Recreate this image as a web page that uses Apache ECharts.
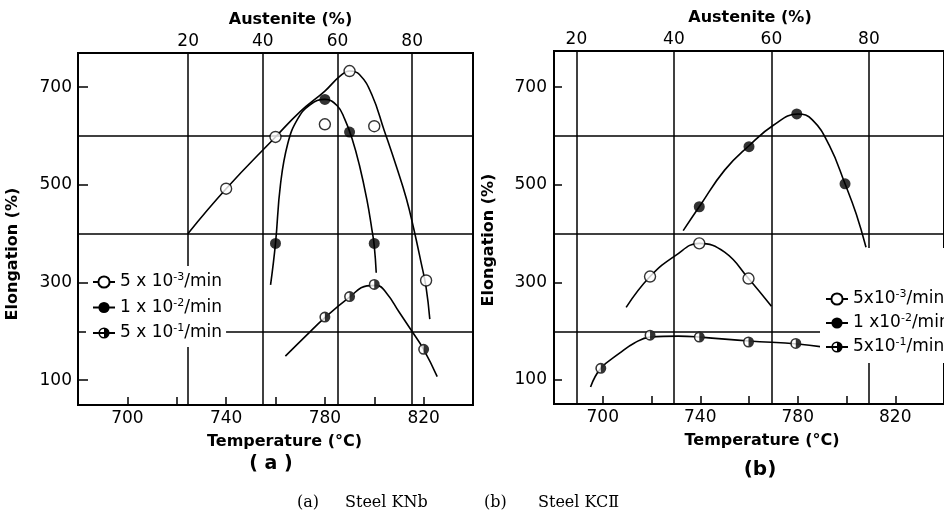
<!DOCTYPE html>
<html><head><meta charset="utf-8">
<script src="https://cdn.jsdelivr.net/npm/echarts@6/dist/echarts.min.js"></script>
<style>html,body{margin:0;padding:0;background:#fff}#c{width:944px;height:523px}</style>
</head><body><div id="c"></div>
<script>
// ---- tick labels / axis values ----
const tempLabels = [700, 740, 780, 820];
const austeniteLabels = [20, 40, 60, 80];
const elongLabels = [100, 300, 500, 700];
const elongGrid = [200, 400, 600];
const rateNames = ['5x10^-3/min', '1x10^-2/min', '5x10^-1/min'];

// ---- (a) Steel KNb : measured points [temperature, elongation] ----
const aOpenPts   = [[740,492],[760,598],[780,624],[790,733],[800,620],[821,304]];
const aFilledPts = [[760,380],[780,675],[790,608],[800,380]];
const aHalfPts   = [[780,229],[790,271],[800,296],[820,163]];
// fitted curves
const aOpenCurve   = [[724.5,400],[740,492],[760,598],[770,650],[780,692],[786,722],[790,733],[794,726],[799,685],[804,612],[809,537],[813,472],[816,410],[819,340],[821,290],[822.5,225]];
const aFilledCurve = [[758,295],[760,380],[762,500],[765,585],[769,635],[774,664],[780,675],[785,662],[788,635],[791,595],[794,540],[797,470],[799,410],[800,375],[800.8,320]];
const aHalfCurve   = [[764,149],[772,189],[780,228],[790,270],[797,293],[801,294],[805,278],[810,240],[815,202],[820,163],[825.5,107]];

// ---- (b) Steel KCII ----
const bOpenPts   = [[719.4,312],[739.6,380],[759.8,308]];
const bFilledPts = [[739.6,455],[760,578],[779.6,645],[799.4,502]];
const bHalfPts   = [[699.2,124],[719.4,192],[739.6,188],[759.8,178],[779.2,175]];
const bOpenCurve   = [[709.6,249],[719.4,312],[729.8,355],[739.6,380],[750,362],[759.8,308],[769.2,251]];
const bFilledCurve = [[733,406],[740,458],[750,530],[760,580],[770,622],[780,645],[786,633],[793,580],[799.4,502],[804,440],[808,372]];
const bHalfCurve   = [[695,86],[699.2,124],[706.9,155],[713,176],[719.4,188],[731,190],[740,188],[760,180],[780,174],[790,168]];

const F = 'DejaVu Sans';
const HALF = 'path://M10 0A10 10 0 1 1 10 20A10 10 0 1 1 10 0ZM10 2.8A7.2 7.2 0 1 0 10 17.2A7.2 7.2 0 1 0 10 2.8ZM10 2.8A7.2 7.2 0 0 1 10 17.2Z';
const SZ = 11;

const panels = [
  {grid:{left:78, top:53, width:395, height:352}, temp:[680,840], aust:[-9.5,96.3], elong:[49,770],
   curves:[aOpenCurve,aFilledCurve,aHalfCurve], pts:[aOpenPts,aFilledPts,aHalfPts],
   tNamePad:[0,0,0,18], aNamePad:[0,0,0,30], eNamePad:[0,50,0,0], yMargin:6, yTick:10},
  {grid:{left:554, top:51, width:396, height:353}, temp:[680,840], aust:[15.4,95.4], elong:[51,774],
   curves:[bOpenCurve,bFilledCurve,bHalfCurve], pts:[bOpenPts,bFilledPts,bHalfPts],
   tNamePad:[0,0,0,26], aNamePad:[0,0,0,2], eNamePad:[0,25,0,0], yMargin:7, yTick:8}
];

const grids = [], xAxes = [], yAxes = [], series = [];
const lineSt = {color:'#000', width:1.6};
const styles = [
  {symbol:'circle', itemStyle:{color:'#fff', borderColor:'#000', borderWidth:1.4}},
  {symbol:'circle', itemStyle:{color:'#000', borderColor:'#000', borderWidth:0}},
  {symbol:HALF, itemStyle:{color:'#000', borderWidth:0}}
];
panels.forEach((p, i) => {
  grids.push(Object.assign({show:true, borderColor:'#000', borderWidth:2, backgroundColor:'transparent'}, p.grid));
  xAxes.push({
    gridIndex:i, type:'value', min:p.temp[0], max:p.temp[1], interval:20, position:'bottom',
    axisLine:{show:true, onZero:false, lineStyle:{color:'#000', width:2}},
    axisTick:{show:true, inside:true, length:8, lineStyle:{color:'#000', width:1.5}},
    axisLabel:{customValues:tempLabels, color:'#000', fontFamily:F, fontSize:17, margin:5},
    splitLine:{show:false},
    name:'Temperature (°C)', nameLocation:'middle', nameGap:29,
    nameTextStyle:{color:'#000', fontFamily:F, fontWeight:'bold', fontSize:16, padding:p.tNamePad}
  });
  xAxes.push({
    gridIndex:i, type:'value', min:p.aust[0], max:p.aust[1], position:'top',
    axisLine:{show:false},
    axisTick:{show:false, customValues:austeniteLabels},
    axisLabel:{customValues:austeniteLabels, color:'#000', fontFamily:F, fontSize:17, margin:3},
    splitLine:{show:true, lineStyle:{color:'#000', width:1.5}},
    name:'Austenite (%)', nameLocation:'middle', nameGap:25,
    nameTextStyle:{color:'#000', fontFamily:F, fontWeight:'bold', fontSize:16, padding:p.aNamePad}
  });
  yAxes.push({
    gridIndex:i, type:'value', min:p.elong[0], max:p.elong[1], position:'left', z:6,
    axisLine:{show:true, onZero:false, lineStyle:{color:'#000', width:2}},
    axisTick:{show:true, inside:true, length:p.yTick, customValues:elongLabels, lineStyle:{color:'#000', width:1.5}},
    axisLabel:{customValues:elongLabels, color:'#000', fontFamily:F, fontSize:17, margin:p.yMargin},
    splitLine:{show:false},
    name:'Elongation (%)', nameLocation:'middle', nameGap:57,
    nameTextStyle:{color:'#000', fontFamily:F, fontWeight:'bold', fontSize:16, padding:p.eNamePad}
  });
  yAxes.push({
    gridIndex:i, type:'value', min:p.elong[0], max:p.elong[1], position:'left',
    axisLine:{show:false}, axisLabel:{show:false},
    axisTick:{show:false, customValues:elongGrid},
    splitLine:{show:true, lineStyle:{color:'#000', width:1.5}}
  });
  const xi = 2*i, yi = 2*i;
  p.curves.forEach((c, k) => {
    series.push({
      name:rateNames[k], type:'line', xAxisIndex:xi, yAxisIndex:yi, data:c,
      smooth:0.45, showSymbol:false, symbol:styles[k].symbol, symbolSize:SZ,
      itemStyle:styles[k].itemStyle, lineStyle:lineSt, silent:true, z:2,
      emphasis:{disabled:true}, animation:false
    });
  });
  p.pts.forEach((d, k) => {
    if (k === 2) {
      series.push({type:'scatter', xAxisIndex:xi, yAxisIndex:yi, data:d, symbol:'circle', symbolSize:SZ-1,
        itemStyle:{color:'#fff'}, silent:true, z:3, animation:false});
    }
    series.push({
      type:'scatter', xAxisIndex:xi, yAxisIndex:yi, data:d, symbol:styles[k].symbol, symbolSize:SZ,
      itemStyle:styles[k].itemStyle, silent:true, z:4, emphasis:{disabled:true}, animation:false
    });
  });
});

const legLeftTxt  = ['5 x 10{sup|-3}/min', '1 x 10{sup|-2}/min', '5 x 10{sup|-1}/min'];
const legRightTxt = ['5x10{sup|-3}/min', '1 x10{sup|-2}/min,', '5x10{sup|-1}/min'];
const legText = {color:'#000', fontFamily:F, fontSize:17, lineHeight:20,
  rich:{sup:{fontFamily:F, fontSize:11, lineHeight:11, verticalAlign:'top', color:'#000'}}};

const option = {
  backgroundColor:'#fff', animation:false,
  grid:grids, xAxis:xAxes, yAxis:yAxes, series:series,
  legend:[
    {data:rateNames, orient:'vertical', left:86, top:266, padding:[6,4,4,6], itemGap:5.5,
     itemWidth:22, itemHeight:14, backgroundColor:'#fff', selectedMode:false, z:5,
     formatter:n => legLeftTxt[rateNames.indexOf(n)], textStyle:legText},
    {data:rateNames, orient:'vertical', left:820, top:248, padding:[41,0,6,5], itemGap:4,
     itemWidth:22, itemHeight:14, backgroundColor:'#fff', selectedMode:false, z:5,
     formatter:n => legRightTxt[rateNames.indexOf(n)], textStyle:legText}
  ],
  graphic:[
    {type:'text', x:271, y:464, style:{text:'( a )', fill:'#000', font:'bold 19px "DejaVu Sans"', textAlign:'center', textVerticalAlign:'middle'}},
    {type:'text', x:760, y:470, style:{text:'(b)', fill:'#000', font:'bold 20px "DejaVu Sans"', textAlign:'center', textVerticalAlign:'middle'}},
    {type:'text', x:297, y:503, style:{text:'(a)', fill:'#000', font:'16px "DejaVu Serif"', textVerticalAlign:'middle'}},
    {type:'text', x:345, y:503, style:{text:'Steel KNb', fill:'#000', font:'16px "DejaVu Serif"', textVerticalAlign:'middle'}},
    {type:'text', x:484, y:503, style:{text:'(b)', fill:'#000', font:'16px "DejaVu Serif"', textVerticalAlign:'middle'}},
    {type:'text', x:538, y:503, style:{text:'Steel KCⅡ', fill:'#000', font:'16px "DejaVu Serif"', textVerticalAlign:'middle'}}
  ]
};
const chart = echarts.init(document.getElementById('c'), null, {renderer:'canvas'});
chart.setOption(option);
</script></body></html>
